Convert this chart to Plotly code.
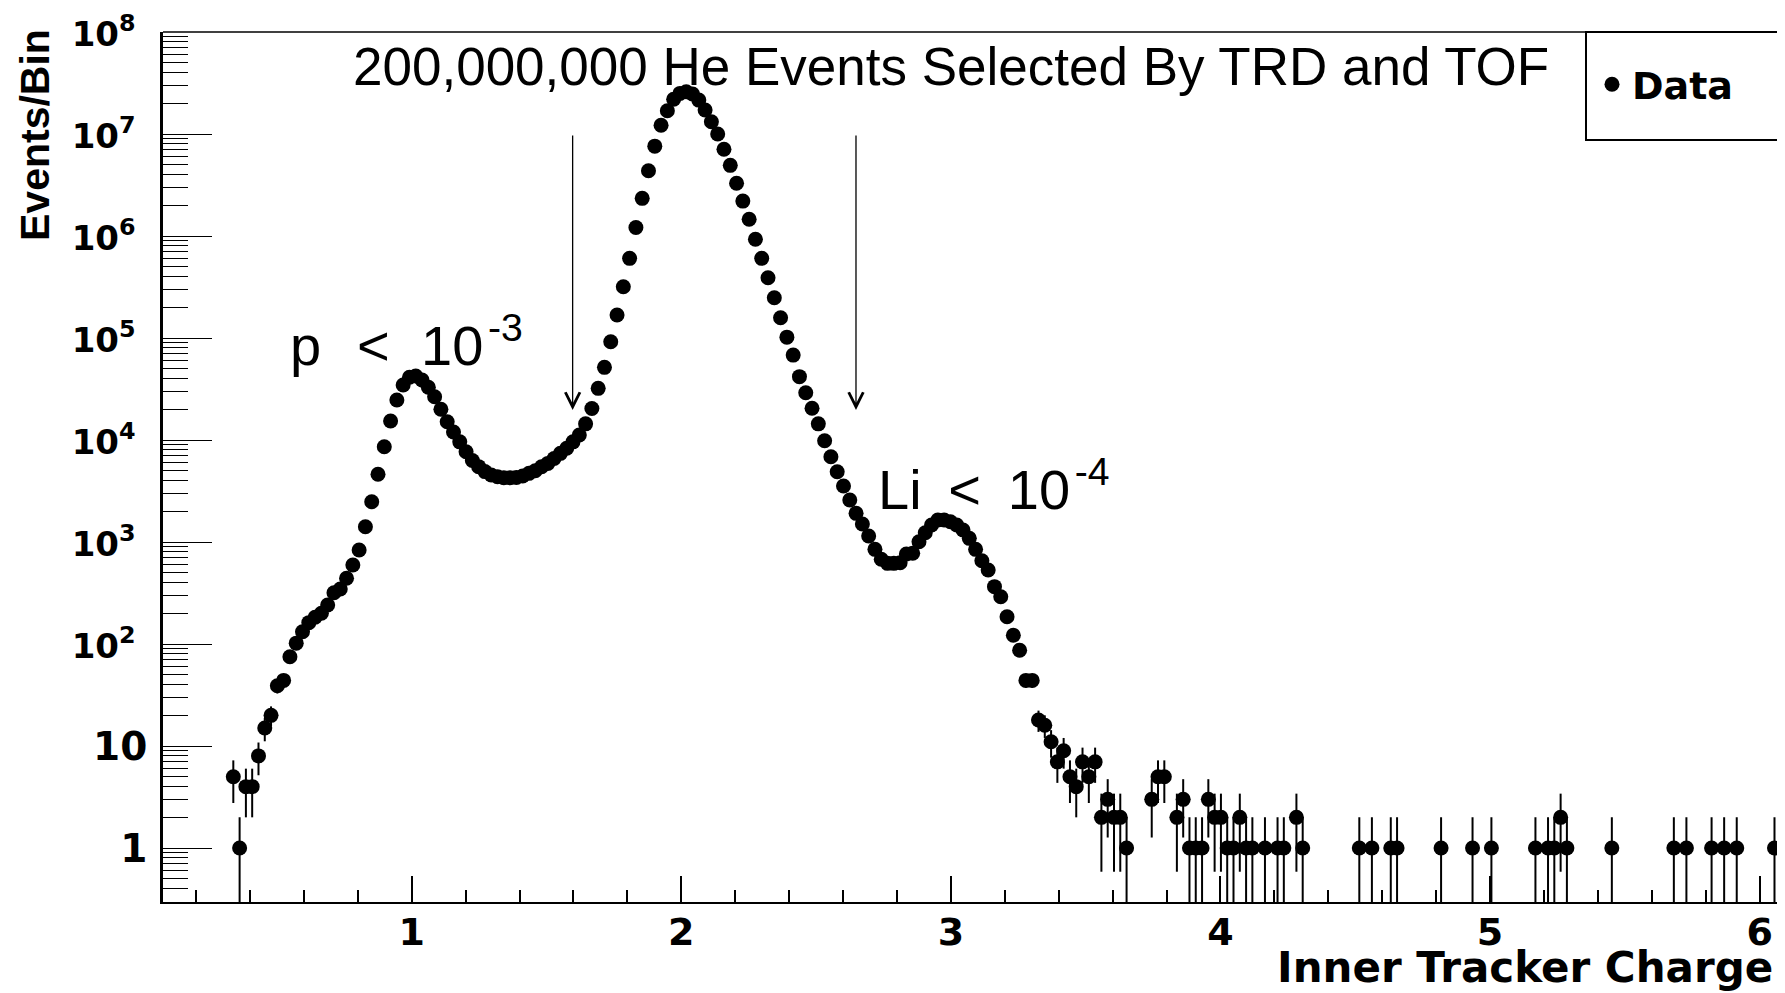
import numpy as np
import plotly.graph_objects as go

#-------------------------------------------------------------------------------
#   Histogram of inner tracker charge, bin centres and counts
#-------------------------------------------------------------------------------
charge_peak = [
    0.3383, 0.3617, 0.3850, 0.4083, 0.4317, 0.4550, 0.4783, 0.5017, 0.5250, 0.5483,
    0.5717, 0.5950, 0.6183, 0.6417, 0.6650, 0.6883, 0.7117, 0.7350, 0.7583, 0.7817,
    0.8050, 0.8283, 0.8517, 0.8750, 0.8983, 0.9217, 0.9450, 0.9683, 0.9917, 1.0150,
    1.0383, 1.0617, 1.0850, 1.1083, 1.1317, 1.1550, 1.1783, 1.2017, 1.2250, 1.2483,
    1.2717, 1.2950, 1.3183, 1.3417, 1.3650, 1.3883, 1.4117, 1.4350, 1.4583, 1.4817,
    1.5050, 1.5283, 1.5517, 1.5750, 1.5983, 1.6217, 1.6450, 1.6683, 1.6917, 1.7150,
    1.7383, 1.7617, 1.7850, 1.8083, 1.8317, 1.8550, 1.8783, 1.9017, 1.9250, 1.9483,
    1.9717, 1.9950, 2.0183, 2.0417, 2.0650, 2.0883, 2.1117, 2.1350, 2.1583, 2.1817,
    2.2050, 2.2283, 2.2517, 2.2750, 2.2983, 2.3217, 2.3450, 2.3683, 2.3917, 2.4150,
    2.4383, 2.4617, 2.4850, 2.5083, 2.5317, 2.5550, 2.5783, 2.6017, 2.6250, 2.6483,
    2.6717, 2.6950, 2.7183, 2.7417, 2.7650, 2.7883, 2.8117, 2.8350, 2.8583, 2.8817,
    2.9050, 2.9283, 2.9517, 2.9750, 2.9983, 3.0217, 3.0450, 3.0683, 3.0917, 3.1150,
    3.1383, 3.1617, 3.1850, 3.2083, 3.2317, 3.2550,
]
counts_peak = [
    5, 1, 4, 4, 8, 15, 20, 39, 44, 75,
    102, 132, 162, 183, 200, 241, 318, 346, 441, 595,
    835, 1413, 2480, 4610, 8600, 15350, 24700, 34600, 41200, 42400,
    38700, 32900, 26600, 20000, 15100, 12000, 9600, 7680, 6300, 5480,
    4900, 4540, 4370, 4270, 4270, 4300, 4440, 4710, 5000, 5470,
    5900, 6600, 7400, 8300, 9600, 11200, 14400, 20400, 32100, 51600,
    91800, 168000, 318000, 604000, 1210000, 2340000, 4370000, 7600000, 12200000, 16900000,
    21900000, 25000000, 26000000, 24700000, 21500000, 17200000, 13200000, 10000000, 7100000, 4930000,
    3290000, 2200000, 1460000, 930000, 604000, 390000, 248000, 158000, 102000, 68000,
    41800, 29100, 20500, 14400, 9850, 6860, 4890, 3540, 2580, 1910,
    1500, 1145, 848, 677, 618, 618, 627, 763, 775, 1007,
    1233, 1468, 1644, 1644, 1582, 1468, 1312, 1087, 848, 656,
    531, 365, 291, 185, 122, 87,
]
charge_tail = [
    3.2783, 3.3017, 3.3250, 3.3483, 3.3717, 3.3950, 3.4183, 3.4417, 3.4650, 3.4883,
    3.5117, 3.5350, 3.5583, 3.5817, 3.6050, 3.6283, 3.6517, 3.7450, 3.7683, 3.7917,
    3.8383, 3.8617, 3.8850, 3.9083, 3.9317, 3.9550, 3.9783, 4.0017, 4.0250, 4.0483,
    4.0717, 4.0950, 4.1183, 4.1650, 4.2117, 4.2350, 4.2817, 4.3050, 4.5150, 4.5617,
    4.6317, 4.6550, 4.8183, 4.9350, 5.0050, 5.1683, 5.2150, 5.2383, 5.2617, 5.2850,
    5.4517, 5.6817, 5.7283, 5.8217, 5.8683, 5.9150, 6.0550,
]
counts_tail = [
    44, 44, 18, 16, 11, 7, 9, 5, 4, 7,
    5, 7, 2, 3, 2, 2, 1, 3, 5, 5,
    2, 3, 1, 1, 1, 3, 2, 2, 1, 1,
    2, 1, 1, 1, 1, 1, 2, 1, 1, 1,
    1, 1, 1, 1, 1, 1, 1, 1, 2, 1,
    1, 1, 1, 1, 1, 1, 1,
]

y_tick_vals = [1, 10, 1e2, 1e3, 1e4, 1e5, 1e6, 1e7, 1e8]
# powers of ten are set a little smaller than the plain labels, as ROOT does
y_tick_text = ['1', '10'] + [
    '<span style="font-size:34px">10<sup>%d</sup>\u00a0</span>' % n for n in range(2, 9)
]
x_tick_vals = [1, 2, 3, 4, 5, 6]
cut_positions = [1.597, 2.648]

charge = charge_peak + charge_tail
counts = counts_peak + counts_tail
errors = np.sqrt(counts)

#-------------------------------------------------------------------------------
#   Figure: the page puts the plot div 8px in from the top-left corner, so the
#   figure is 8px smaller and px()/py() take positions in the page's pixels
#-------------------------------------------------------------------------------
OFF = 8
W, H = 1785 - OFF, 993 - OFF
L, R, T, B = 163 - OFF, 0, 32 - OFF, 91
PW, PH = W - L - R, H - T - B

def px(xp):
    return (xp - OFF - L) / PW

def py(yp):
    return (H - B - (yp - OFF)) / PH

root_bold = dict(family='DejaVu Sans', color='black', weight='bold')
helv = dict(family='Liberation Sans', color='black')

fig = go.Figure()
fig.add_trace(go.Scatter(
    x=charge, y=counts, mode='markers', name='Data',
    marker=dict(color='black', size=15, line=dict(width=0)),
    error_y=dict(type='data', array=errors, visible=True,
                 color='black', thickness=2, width=0),
))

fig.update_layout(
    template='none',
    width=W, height=H,
    margin=dict(l=L, r=R, t=T, b=B, pad=0, autoexpand=False),
    paper_bgcolor='white', plot_bgcolor='white',
    showlegend=True,
    legend=dict(x=px(1592), y=py(53), xanchor='left', yanchor='top',
                bgcolor='rgba(0,0,0,0)', borderwidth=0,
                font=dict(size=38, **root_bold)),
    xaxis=dict(
        range=[0.0775, 6.094], showgrid=False, zeroline=False, automargin=False,
        showline=True, linecolor='black', linewidth=2,
        tickmode='array', tickvals=x_tick_vals, ticktext=[str(v) for v in x_tick_vals],
        ticks='inside', ticklen=26, tickwidth=2, tickcolor='black',
        minor=dict(tick0=0, dtick=0.2, ticks='inside', ticklen=12,
                   tickwidth=2, tickcolor='black', showgrid=False),
        tickfont=dict(size=38, **root_bold),
        ticklabelstandoff=-5, ticklabeloverflow='allow',
    ),
    yaxis=dict(
        type='log', range=[-0.529, 8], showgrid=False, zeroline=False, automargin=False,
        showline=True, linecolor='black', linewidth=2.6,
        tickmode='array', tickvals=y_tick_vals, ticktext=y_tick_text,
        ticks='inside', ticklen=49, tickwidth=1.3, tickcolor='black',
        minor=dict(dtick='D1', ticks='inside', ticklen=25,
                   tickwidth=1.3, tickcolor='black', showgrid=False),
        tickfont=dict(size=39, **root_bold),
        ticklabelstandoff=5, ticklabeloverflow='allow',
    ),
    shapes=[
        # top frame line and the legend box (runs off the right edge)
        dict(type='line', xref='paper', yref='paper', x0=0, x1=1.02, y0=1, y1=1,
             line=dict(color='black', width=1.5)),
        dict(type='rect', xref='paper', yref='paper', x0=px(1586), x1=1.03,
             y0=py(140), y1=1, line=dict(color='black', width=2)),
    ],
)

annotations = [
    dict(text='200,000,000 He Events Selected By TRD and TOF',
         xref='paper', yref='paper', x=px(351), y=py(66), xanchor='left', yanchor='middle',
         showarrow=False, font=dict(size=53, **helv)),
    dict(text='p\u00a0\u00a0\u200a<\u00a0\u2009\u200a10\u200a<sup>-3</sup>',
         xref='paper', yref='paper', x=px(288), y=py(341), xanchor='left', yanchor='middle',
         showarrow=False, font=dict(size=56, **helv)),
    dict(text='Li\u00a0\u2009<\u00a0\u200910\u200a<sup>-4</sup>',
         xref='paper', yref='paper', x=px(876), y=py(485), xanchor='left', yanchor='middle',
         showarrow=False, font=dict(size=56, **helv)),
    dict(text='Inner Tracker Charge',
         xref='paper', yref='paper', x=px(1775), y=py(968), xanchor='right', yanchor='middle',
         showarrow=False, font=dict(size=42, **root_bold)),
    dict(text='Events/Bin', textangle=-90,
         xref='paper', yref='paper', x=px(35), y=py(27), xanchor='center', yanchor='top',
         showarrow=False, font=dict(size=41, family='Liberation Sans', color='black', weight='bold')),
]
for xc in cut_positions:
    annotations.append(dict(
        text='', xref='x', yref='paper', x=xc, y=py(410),
        showarrow=True, axref='pixel', ayref='pixel', ax=0, ay=-276,
        arrowhead=5, arrowsize=2.2, arrowwidth=1.3, arrowcolor='black', standoff=0,
    ))
fig.update_layout(annotations=annotations)

fig.write_html('out.html')
